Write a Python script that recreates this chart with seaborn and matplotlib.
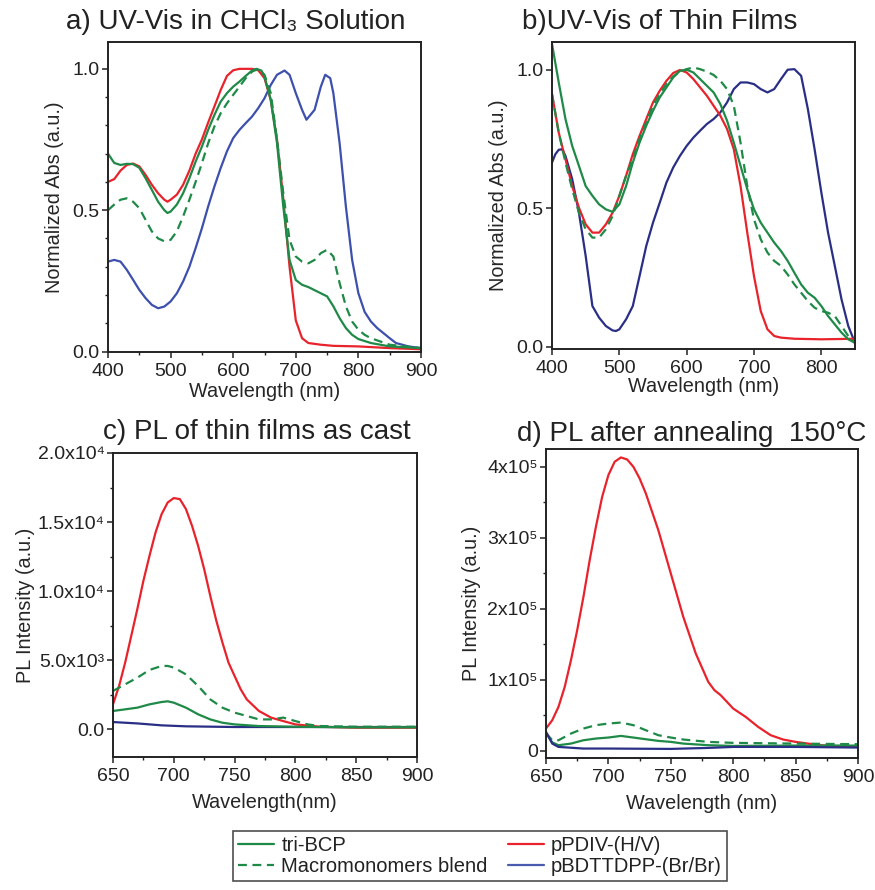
import numpy as np
import pandas as pd
import matplotlib
matplotlib.use("Agg")
import matplotlib.pyplot as plt
from matplotlib.ticker import MultipleLocator, FixedLocator, FixedFormatter
from matplotlib.lines import Line2D
import seaborn as sns

# ---------------- data ----------------
# Panel a: UV-Vis in CHCl3 solution
a_red_x = [400,410,420,430,440,450,460,470,480,490,495,500,510,520,530,540,550,560,570,580,590,600,610,620,630,640,650,660,670,680,690,700,710,720,740,760,800,850,900]
a_red_y = [0.60,0.61,0.64,0.66,0.665,0.655,0.625,0.59,0.56,0.537,0.53,0.537,0.555,0.59,0.64,0.70,0.75,0.81,0.867,0.925,0.975,0.995,1.0,1.0,1.0,0.995,0.967,0.89,0.75,0.54,0.30,0.11,0.047,0.03,0.024,0.02,0.018,0.012,0.008]

a_grn_x = [400,410,420,430,440,450,460,470,480,490,495,500,510,520,530,540,550,560,570,580,590,600,610,620,630,637,645,650,660,670,680,690,700,710,720,740,750,760,770,780,790,800,820,850,900]
a_grn_y = [0.70,0.667,0.66,0.664,0.663,0.65,0.613,0.572,0.53,0.50,0.49,0.495,0.52,0.56,0.613,0.672,0.725,0.784,0.837,0.884,0.914,0.937,0.955,0.975,0.994,1.0,0.994,0.973,0.89,0.737,0.513,0.324,0.253,0.236,0.228,0.206,0.195,0.16,0.118,0.083,0.059,0.044,0.03,0.018,0.012]

a_dsh_x = [400,410,420,430,440,450,460,470,480,490,500,510,520,530,540,550,560,570,580,590,600,610,620,630,640,650,660,670,680,690,700,710,720,730,740,750,760,770,780,790,800,810,820,850,900]
a_dsh_y = [0.50,0.52,0.537,0.542,0.53,0.507,0.466,0.425,0.40,0.39,0.395,0.425,0.478,0.537,0.60,0.666,0.737,0.796,0.843,0.878,0.908,0.937,0.967,0.99,1.0,0.979,0.914,0.749,0.56,0.395,0.336,0.318,0.312,0.324,0.348,0.36,0.336,0.242,0.16,0.106,0.077,0.059,0.047,0.024,0.012]

a_blu_x = [400,410,420,430,440,450,460,470,480,490,500,510,520,530,540,550,560,570,580,590,600,610,620,630,640,650,660,670,682,690,700,710,717,730,740,747,755,760,770,780,790,800,810,820,830,840,850,860,880,900]
a_blu_y = [0.318,0.324,0.318,0.289,0.254,0.218,0.189,0.165,0.153,0.159,0.177,0.206,0.248,0.30,0.366,0.436,0.513,0.584,0.649,0.708,0.755,0.784,0.808,0.831,0.861,0.896,0.943,0.979,0.994,0.979,0.914,0.855,0.82,0.855,0.937,0.979,0.967,0.914,0.737,0.513,0.324,0.206,0.14,0.106,0.083,0.065,0.047,0.03,0.018,0.012]

# Panel b: UV-Vis of thin films
b_red_x = [400,410,420,430,440,450,460,470,480,490,500,510,520,530,540,550,560,570,580,590,600,610,620,630,640,650,660,670,680,690,700,710,720,730,740,760,800,850]
b_red_y = [0.912,0.773,0.677,0.58,0.502,0.442,0.412,0.412,0.442,0.484,0.545,0.617,0.695,0.761,0.822,0.882,0.924,0.96,0.988,0.999,0.99,0.966,0.936,0.906,0.87,0.834,0.786,0.713,0.58,0.412,0.255,0.129,0.063,0.039,0.033,0.029,0.027,0.029]

b_grn_x = [400,410,420,430,440,450,460,470,480,490,500,510,520,530,540,550,560,570,580,590,600,610,620,630,640,650,660,670,680,690,700,710,720,730,740,750,760,770,780,790,800,810,820,830,840,850]
b_grn_y = [1.093,0.954,0.822,0.725,0.653,0.58,0.545,0.514,0.496,0.487,0.514,0.58,0.665,0.737,0.798,0.852,0.90,0.936,0.972,0.996,1.0,0.99,0.966,0.942,0.918,0.876,0.816,0.737,0.653,0.569,0.496,0.448,0.412,0.376,0.346,0.31,0.267,0.225,0.195,0.177,0.147,0.111,0.081,0.051,0.027,0.014]

b_dsh_x = [400,410,420,430,440,450,460,470,480,490,500,510,520,530,540,550,560,570,580,590,600,610,620,630,640,650,660,670,680,690,700,710,720,730,740,750,760,770,780,790,800,810,820,830,840,850]
b_dsh_y = [0.912,0.773,0.665,0.569,0.484,0.424,0.394,0.394,0.424,0.472,0.545,0.617,0.677,0.749,0.81,0.87,0.912,0.948,0.976,0.993,1.002,1.008,1.002,0.993,0.981,0.96,0.93,0.87,0.737,0.58,0.46,0.388,0.34,0.31,0.292,0.261,0.225,0.195,0.165,0.141,0.129,0.123,0.111,0.075,0.039,0.014]

b_blu_x = [400,405,410,415,420,430,440,450,460,470,480,490,495,500,510,520,530,540,550,560,570,580,590,600,610,620,630,640,650,660,670,680,690,700,710,720,730,740,750,760,770,780,790,800,810,820,830,840,850]
b_blu_y = [0.665,0.695,0.711,0.713,0.689,0.605,0.484,0.328,0.147,0.105,0.075,0.059,0.057,0.063,0.099,0.147,0.255,0.364,0.448,0.52,0.593,0.647,0.689,0.725,0.755,0.78,0.804,0.822,0.846,0.882,0.93,0.954,0.954,0.948,0.93,0.918,0.93,0.966,1.0,1.002,0.978,0.858,0.713,0.557,0.412,0.292,0.171,0.075,0.014]

# Panel c: PL of thin films as cast
c_red_x = [650,655,660,665,670,675,680,685,690,695,700,705,710,715,720,725,730,735,740,745,750,755,760,770,780,790,800,820,850,900]
c_red_y = [1810,3140,4830,6760,8700,10750,12560,14250,15580,16420,16740,16660,15940,14730,13280,11590,9660,7850,6280,4830,3860,2900,2170,1330,850,600,360,190,120,120]

c_dsh_x = [650,660,670,680,690,695,700,710,720,730,740,750,760,770,780,790,800,810,820,850,900]
c_dsh_y = [2780,3260,3740,4300,4590,4590,4470,3980,3140,2170,1570,1210,970,720,720,850,600,360,240,190,190]

c_grn_x = [650,660,670,680,690,695,700,710,720,730,740,750,770,800,850,900]
c_grn_y = [1330,1450,1570,1810,1980,2030,1930,1570,1090,720,480,360,240,190,145,145]

c_blu_x = [650,670,690,710,750,800,900]
c_blu_y = [530,430,290,220,170,170,170]

# Panel d: PL after annealing 150 C
d_red_x = [650,655,660,665,670,675,680,685,690,695,700,705,710,715,720,725,730,740,750,760,770,780,785,790,800,810,820,830,840,850,860,870,880,900]
d_red_y = [31500,43200,62000,90100,127700,170000,216900,268500,315500,357700,388300,407000,413100,410300,400000,383600,362400,310800,249800,188700,137100,97200,85400,78400,59600,47900,33800,22100,16000,12700,10300,8000,7000,6600]

d_dsh_x = [650,655,660,670,680,690,700,710,720,730,740,750,760,780,800,850,900]
d_dsh_y = [25000,15000,15000,24400,31500,36200,38500,39900,36200,29100,22100,18800,16000,12700,11300,10300,9400]

d_grn_x = [650,655,660,670,680,690,700,710,720,730,740,750,760,780,800,850,900]
d_grn_y = [25000,12000,8000,10300,15000,17400,18800,21100,18800,16400,14100,12700,10300,8000,7000,7500,7500]

d_blu_x = [650,655,660,680,700,750,780,800,850,900]
d_blu_y = [26800,10300,5600,3300,3300,2800,4200,5600,5600,4700]

legend_labels = ["tri-BCP", "Macromonomers blend", "pPDIV-(H/V)", "pBDTTDPP-(Br/Br)"]

c_tick_vals = [0, 5000, 10000, 15000, 20000]
c_tick_labels = ["0.0", "5.0x10\u00b3", "1.0x10\u2074", "1.5x10\u2074", "2.0x10\u2074"]
d_tick_vals = [0, 100000, 200000, 300000, 400000]
d_tick_labels = ["0", "1x10\u2075", "2x10\u2075", "3x10\u2075", "4x10\u2075"]

# ---------------- style ----------------
sns.set_theme(style="ticks")
FONTS = ["Liberation Sans", "DejaVu Sans"]
plt.rcParams["font.family"] = FONTS
plt.rcParams["axes.linewidth"] = 1.4
plt.rcParams["axes.edgecolor"] = "#222222"
plt.rcParams["xtick.color"] = "#222222"
plt.rcParams["ytick.color"] = "#222222"
plt.rcParams["text.color"] = "#222222"

GREEN = "#1f8a47"
RED = "#e8232b"
BLUE_A = "#3d50ad"
NAVY = "#2a2f86"
LW = 1.6
DASH = (0, (4, 2.5))

W, H = 875, 890
fig = plt.figure(figsize=(W / 100, H / 100), dpi=100)


def box(l, t, r, b):
    return [l / W, 1 - b / H, (r - l) / W, (b - t) / H]


ax_a = fig.add_axes(box(108, 42, 421, 351.5))
ax_b = fig.add_axes(box(552, 42, 855, 349))
ax_c = fig.add_axes(box(113, 453, 417, 757))
ax_d = fig.add_axes(box(546, 449, 858, 758))


def draw(ax, x, y, color, ls="-"):
    df = pd.DataFrame({"x": x, "y": y})
    sns.lineplot(data=df, x="x", y="y", ax=ax, color=color, linestyle=ls,
                 linewidth=LW, sort=False, estimator=None)


draw(ax_a, a_red_x, a_red_y, RED)
draw(ax_a, a_blu_x, a_blu_y, BLUE_A)
draw(ax_a, a_dsh_x, a_dsh_y, GREEN, DASH)
draw(ax_a, a_grn_x, a_grn_y, GREEN)

draw(ax_b, b_blu_x, b_blu_y, NAVY)
draw(ax_b, b_red_x, b_red_y, RED)
draw(ax_b, b_dsh_x, b_dsh_y, GREEN, DASH)
draw(ax_b, b_grn_x, b_grn_y, GREEN)

draw(ax_c, c_blu_x, c_blu_y, NAVY)
draw(ax_c, c_red_x, c_red_y, RED)
draw(ax_c, c_grn_x, c_grn_y, GREEN)
draw(ax_c, c_dsh_x, c_dsh_y, GREEN, DASH)

draw(ax_d, d_red_x, d_red_y, RED)
draw(ax_d, d_dsh_x, d_dsh_y, GREEN, DASH)
draw(ax_d, d_grn_x, d_grn_y, GREEN)
draw(ax_d, d_blu_x, d_blu_y, NAVY)

TICK_FS = 14
LAB_FS = 14.3

for ax in (ax_a, ax_b, ax_c, ax_d):
    for s in ax.spines.values():
        s.set_visible(True)
        s.set_linewidth(1.4)
    ax.tick_params(which="major", direction="out", length=4, width=1.1,
                   labelsize=TICK_FS, pad=2, top=False, right=False)
    ax.tick_params(which="minor", direction="out", length=2.5, width=1.0,
                   top=False, right=False)
    ax.tick_params(axis="x", which="major", pad=4)
    ax.set_xlabel("")
    ax.set_ylabel("")

# a
ax_a.set_xlim(400, 900)
ax_a.set_ylim(0, 1.095)
ax_a.xaxis.set_major_locator(MultipleLocator(100))
ax_a.xaxis.set_minor_locator(MultipleLocator(50))
ax_a.yaxis.set_major_locator(FixedLocator([0, 0.5, 1.0]))
ax_a.yaxis.set_major_formatter(FixedFormatter(["0.0", "0.5", "1.0"]))
ax_a.yaxis.set_minor_locator(MultipleLocator(0.1))
ax_a.set_xlabel("Wavelength (nm)", fontsize=LAB_FS, labelpad=2)
ax_a.set_ylabel("Normalized Abs (a.u.)", fontsize=LAB_FS, labelpad=6)

# b
ax_b.set_xlim(400, 850)
ax_b.set_ylim(-0.008, 1.1)
ax_b.xaxis.set_major_locator(MultipleLocator(100))
ax_b.yaxis.set_major_locator(FixedLocator([0, 0.5, 1.0]))
ax_b.yaxis.set_major_formatter(FixedFormatter(["0.0", "0.5", "1.0"]))
ax_b.set_xlabel("Wavelength (nm)", fontsize=LAB_FS, labelpad=0)
ax_b.set_ylabel("Normalized Abs (a.u.)", fontsize=LAB_FS, labelpad=6)

# c
ax_c.set_xlim(650, 900)
ax_c.set_ylim(-2000, 20000)
ax_c.xaxis.set_major_locator(MultipleLocator(50))
ax_c.xaxis.set_minor_locator(MultipleLocator(25))
ax_c.yaxis.set_major_locator(FixedLocator(c_tick_vals))
ax_c.yaxis.set_major_formatter(FixedFormatter(c_tick_labels))
ax_c.yaxis.set_minor_locator(MultipleLocator(2500))
ax_c.set_xlabel("Wavelength(nm)", fontsize=LAB_FS, labelpad=6)
ax_c.set_ylabel("PL Intensity (a.u.)", fontsize=LAB_FS, labelpad=2)

# d
ax_d.set_xlim(650, 900)
ax_d.set_ylim(-10000, 425000)
ax_d.xaxis.set_major_locator(MultipleLocator(50))
ax_d.xaxis.set_minor_locator(MultipleLocator(25))
ax_d.yaxis.set_major_locator(FixedLocator(d_tick_vals))
ax_d.yaxis.set_major_formatter(FixedFormatter(d_tick_labels))
ax_d.yaxis.set_minor_locator(MultipleLocator(50000))
ax_d.set_xlabel("Wavelength (nm)", fontsize=LAB_FS, labelpad=6)
ax_d.set_ylabel("PL Intensity (a.u.)", fontsize=LAB_FS, labelpad=4)

# titles
TFS = 20
fig.text(236 / W, 1 - 22 / H, "a) UV-Vis in CHCl\u2083 Solution", ha="center", va="center", fontsize=TFS, family=FONTS)
fig.text(660 / W, 1 - 22 / H, "b)UV-Vis of Thin Films", ha="center", va="center", fontsize=TFS, family=FONTS)
fig.text(257 / W, 1 - 432 / H, "c) PL of thin films as cast", ha="center", va="center", fontsize=TFS, family=FONTS)
fig.text(692 / W, 1 - 434 / H, "d) PL after annealing  150\u00b0C", ha="center", va="center", fontsize=TFS, family=FONTS)

# legend
handles = [
    Line2D([], [], color=GREEN, lw=LW),
    Line2D([], [], color=GREEN, lw=LW, linestyle=DASH),
    Line2D([], [], color=RED, lw=LW),
    Line2D([], [], color="#4a5bb0", lw=LW),
]
leg = fig.legend(handles, legend_labels, ncol=2, loc="upper center",
                 bbox_to_anchor=(480 / W, 1 - 831 / H), fontsize=14.5,
                 frameon=True, fancybox=False, edgecolor="#222222",
                 handlelength=1.8, handletextpad=0.35, columnspacing=1.0,
                 borderpad=0.25, labelspacing=0.1, borderaxespad=0)
leg.get_frame().set_linewidth(1.2)

fig.savefig("out.png", dpi=100)
